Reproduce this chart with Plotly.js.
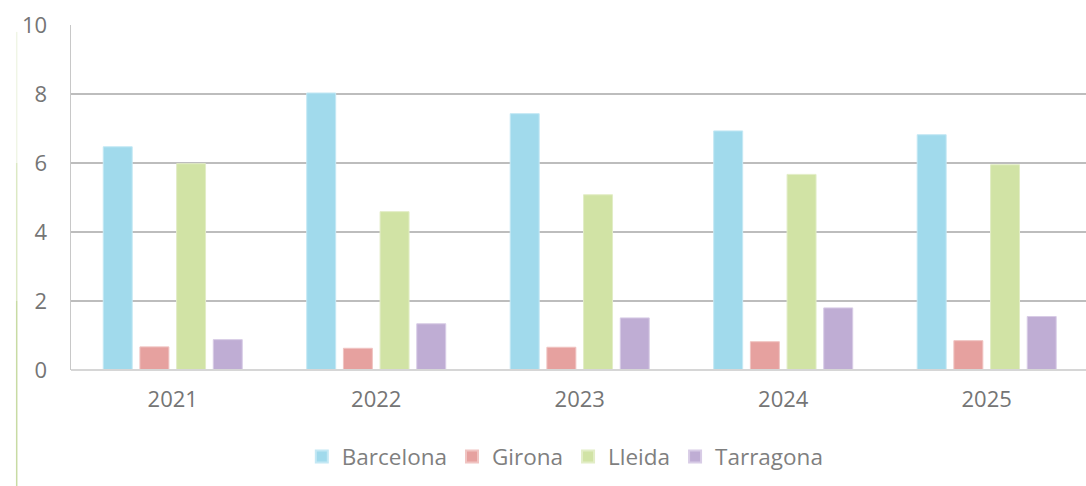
<!DOCTYPE html>
<html>
<head>
<meta charset="utf-8">
<script src="https://cdn.plot.ly/plotly-3.0.1.min.js"></script>
<style>html,body{margin:0;padding:0;background:#fff;}#chart{width:1086px;height:486px;}</style>
</head>
<body>
<div id="chart"></div>
<script>
var years = ["2021", "2022", "2023", "2024", "2025"];
var seriesNames = ["Barcelona", "Girona", "Lleida", "Tarragona"];
var barcelona = [6.47, 8.03, 7.43, 6.93, 6.82];
var girona = [0.67, 0.63, 0.66, 0.82, 0.85];
var lleida = [5.98, 4.59, 5.08, 5.67, 5.95];
var tarragona = [0.88, 1.34, 1.51, 1.80, 1.55];
var yTicks = [0, 2, 4, 6, 8, 10];

var colors = ["#A1DAEC", "#E6A19F", "#D1E3A5", "#BFADD4"];
var edges = ["#C4E8F4", "#F0C4C2", "#E2EDC6", "#D8CCE6"];
var values = [barcelona, girona, lleida, tarragona];

var data = values.map(function (v, i) {
  return {
    type: "bar",
    name: seriesNames[i],
    x: years,
    y: v,
    marker: {color: colors[i], line: {color: edges[i], width: 1}},
    hoverinfo: "x+y+name"
  };
});

var font = "'Open Sans', 'DejaVu Sans', sans-serif";
var layout = {
  width: 1086,
  height: 486,
  margin: {l: 71, r: 0, t: 25, b: 116, pad: 0},
  paper_bgcolor: "#fff",
  plot_bgcolor: "#fff",
  barmode: "group",
  bargap: 0.279,
  bargroupgap: 0.21,
  showlegend: true,
  legend: {
    orientation: "h",
    x: 0.487, xanchor: "center",
    y: -0.252, yanchor: "middle",
    font: {family: font, size: 22.5, color: "#7F7F7F"},
    itemsizing: "constant",
    itemwidth: 30,
    traceorder: "normal"
  },
  xaxis: {
    type: "category",
    range: [-0.5, 4.488],
    showgrid: false,
    showline: false,
    zeroline: false,
    ticks: "",
    tickfont: {family: font, size: 22, color: "#757575"},
    ticklabelstandoff: 14
  },
  yaxis: {
    range: [0, 10],
    tickvals: yTicks,
    ticktext: yTicks.map(String),
    showgrid: true,
    gridcolor: "#BDBDBD",
    gridwidth: 2,
    zeroline: false,
    showline: true,
    linecolor: "#C8C8C8",
    linewidth: 1.5,
    ticks: "",
    tickfont: {family: font, size: 22, color: "#757575"},
    ticklabelstandoff: 18
  },
  shapes: [
    {type: "line", xref: "paper", yref: "paper", x0: 0, x1: 1.01, y0: 0, y1: 0,
     line: {color: "#D6D6D6", width: 2}},
    {type: "line", xref: "paper", yref: "paper", x0: -0.0535, x1: -0.0535, y0: 0.98, y1: 0.6,
     line: {color: "#F0F5E6", width: 1.5}},
    {type: "line", xref: "paper", yref: "paper", x0: -0.0535, x1: -0.0535, y0: 0.6, y1: 0.2,
     line: {color: "#DCE9C4", width: 1.5}},
    {type: "line", xref: "paper", yref: "paper", x0: -0.0535, x1: -0.0535, y0: 0.2, y1: -0.34,
     line: {color: "#C8DBA4", width: 1.5}}
  ]
};

Plotly.newPlot("chart", data, layout, {displayModeBar: false, staticPlot: true});
</script>
</body>
</html>
